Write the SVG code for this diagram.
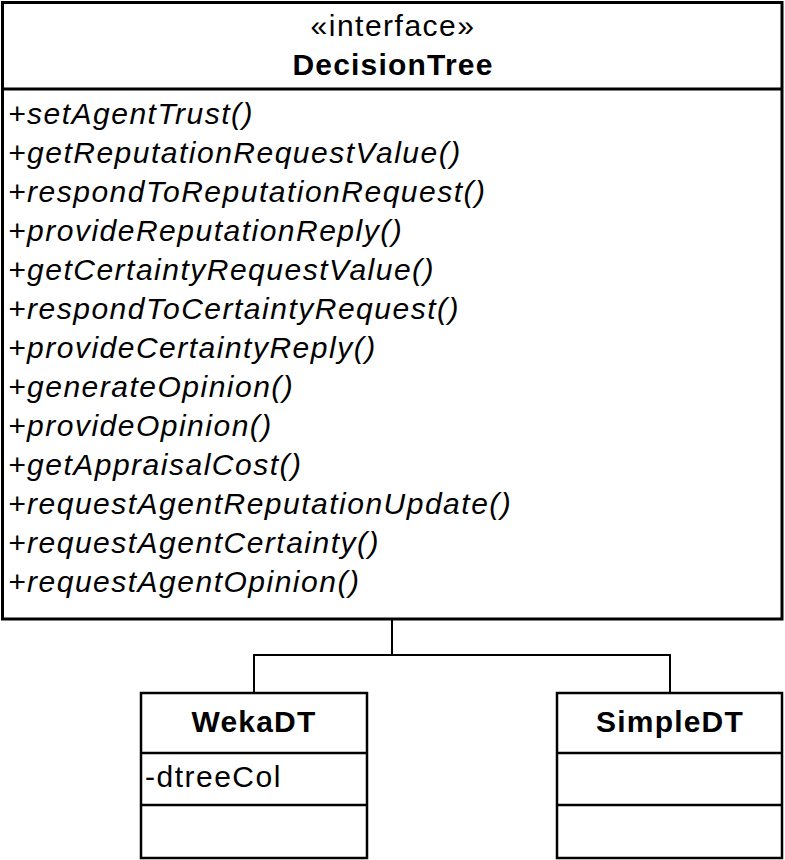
<svg xmlns="http://www.w3.org/2000/svg" width="785" height="860" viewBox="0 0 785 860">
<style>
.box{fill:#fff;stroke:#000;stroke-width:3}
.sbox{fill:#fff;stroke:#000;stroke-width:2.5}
.div{stroke:#000;stroke-width:3}
.sdiv{stroke:#000;stroke-width:2.5}
.conn{fill:none;stroke:#000;stroke-width:2}
.t{font-family:"Liberation Sans",Arial,sans-serif;font-size:30px;letter-spacing:1.5px;fill:#000}
.m{font-style:italic}
.b{font-weight:bold;font-size:30px;letter-spacing:1.2px}
.c{text-anchor:middle}
</style>
<rect width="785" height="860" fill="#fff"/>
<g id="DecisionTree">
<rect class="box" x="2.5" y="2.5" width="779.5" height="616.5"/>
<line class="div" x1="2.5" y1="89" x2="782" y2="89"/>
<text class="t c" x="393" y="36">«interface»</text>
<text class="t b c" x="393" y="75">DecisionTree</text>
<g class="t m">
<text x="8" y="124">+setAgentTrust()</text>
<text x="8" y="163">+getReputationRequestValue()</text>
<text x="8" y="202">+respondToReputationRequest()</text>
<text x="8" y="241">+provideReputationReply()</text>
<text x="8" y="280">+getCertaintyRequestValue()</text>
<text x="8" y="319">+respondToCertaintyRequest()</text>
<text x="8" y="358">+provideCertaintyReply()</text>
<text x="8" y="397">+generateOpinion()</text>
<text x="8" y="436">+provideOpinion()</text>
<text x="8" y="475">+getAppraisalCost()</text>
<text x="8" y="514">+requestAgentReputationUpdate()</text>
<text x="8" y="553">+requestAgentCertainty()</text>
<text x="8" y="592">+requestAgentOpinion()</text>
</g>
</g>
<g id="connectors">
<path class="conn" d="M392,619 V655 M254,693 V655 H670 V693"/>
</g>
<g id="WekaDT">
<rect class="sbox" x="141" y="693" width="226" height="165"/>
<line class="sdiv" x1="141" y1="753" x2="367" y2="753"/>
<line class="sdiv" x1="141" y1="805" x2="367" y2="805"/>
<text class="t b c" x="254" y="732">WekaDT</text>
<text class="t" x="145" y="787">-dtreeCol</text>
</g>
<g id="SimpleDT">
<rect class="sbox" x="557" y="693" width="225" height="165"/>
<line class="sdiv" x1="557" y1="753" x2="782" y2="753"/>
<line class="sdiv" x1="557" y1="805" x2="782" y2="805"/>
<text class="t b c" x="670" y="732">SimpleDT</text>
</g>
</svg>
